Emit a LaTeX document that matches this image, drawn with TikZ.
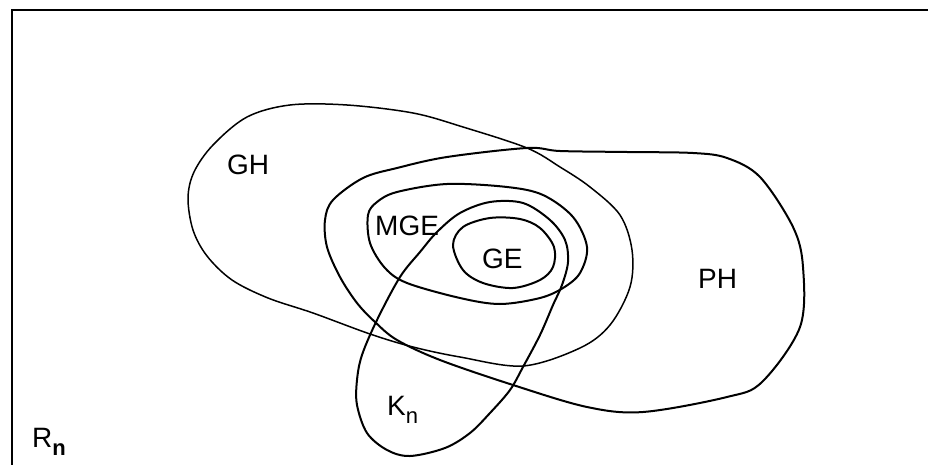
\documentclass[tikz,border=0pt]{standalone}
\usepackage{fontspec}
\setmainfont{Liberation Sans}
\newcommand{\lowsub}[1]{\raisebox{-0.32em}{\fontsize{22}{22}\selectfont #1}}

\begin{document}
\begin{tikzpicture}[x=1pt, y=-1pt,
      frame/.style={line width=1.6pt},
      setline/.style={line width=2pt, smooth cycle, tension=0.55},
      thinline/.style={setline, line width=1.5pt},
      lbl/.style={inner sep=0pt, anchor=base west, font=\fontsize{28}{30}\selectfont}]
    \useasboundingbox (0,0) rectangle (928,465);
    \draw[frame] (12,465) -- (12,10) -- (928,10);
    \draw[thinline] plot coordinates {(188,198) (194,172) (213,145) (247,117) (290,105)
      (347,105) (413,113) (463,127) (527,148) (560,167) (590,187) (620,215) (632,250)
      (630,287) (610,325) (580,348) (523,366) (460,357) (413,347) (370,334) (313,313)
      (268,298) (232,280) (207,256) (193,230)};
    \draw[setline] plot coordinates {(560,151) (627,152) (693,153) (727,158) (760,177)
      (793,227) (803,267) (800,327) (762,382) (727,397) (643,412) (587,407) (513,385)
      (440,360) (397,340) (375,322) (357,303) (340,277) (327,247) (325,220) (333,200)
      (363,178) (397,168) (447,157) (527,148)};
    \draw[setline] plot coordinates {(368,215) (377,202) (397,192) (447,184) (507,187)
      (543,195) (573,217) (587,247) (580,273) (563,288) (540,298) (500,304) (460,298)
      (407,283) (385,268) (370,243)};
    \draw[setline] plot coordinates {(460,213) (490,202) (523,203) (550,220) (565,240)
      (568,262) (562,285) (553,305) (540,335) (523,367) (510,390) (490,413) (470,433)
      (445,448) (410,456) (387,450) (367,433) (357,405) (357,380) (362,355) (377,320)
      (400,277) (420,252) (437,232)};
    \draw[setline] plot coordinates {(453,245) (463,227) (490,218) (520,219) (540,228)
      (554,247) (553,267) (540,280) (513,288) (483,283) (463,270)};
    \node[lbl] (gh) at (227,175) {GH};
    \node[lbl] (mge) at (375,235) {MGE};
    \node[lbl] (ge) at (482,268) {GE};
    \node[lbl] (ph) at (698,288) {PH};
    \node[lbl] (kn) at (387,415) {K\lowsub{n}};
    \node[lbl] (rn) at (32,447) {R\lowsub{\bfseries n}};
  \end{tikzpicture}
\end{document}
